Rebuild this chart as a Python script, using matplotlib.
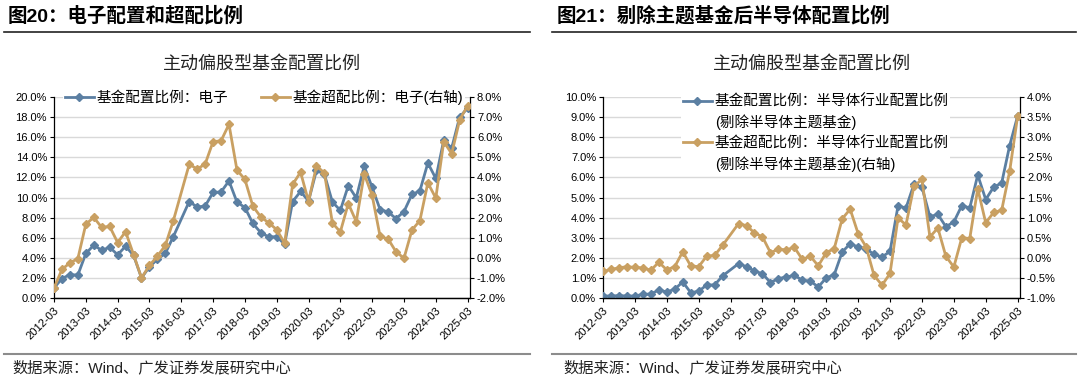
# plot.py
# Re-draw of the two panels: electronics allocation / over-allocation,
# and semiconductor allocation (theme funds removed).

import matplotlib
matplotlib.use("Agg")
import matplotlib.pyplot as plt
from matplotlib.lines import Line2D
from matplotlib.ticker import MultipleLocator, FuncFormatter

plt.rcParams['font.family'] = ['Liberation Sans', 'Noto Sans CJK SC']
plt.rcParams['axes.unicode_minus'] = False

# quarter-end dates (2016-03 has no value in the source)
dates = ["2012-03", "2012-06", "2012-09", "2012-12",
         "2013-03", "2013-06", "2013-09", "2013-12",
         "2014-03", "2014-06", "2014-09", "2014-12",
         "2015-03", "2015-06", "2015-09", "2015-12",
         "2016-06", "2016-09", "2016-12",
         "2017-03", "2017-06", "2017-09", "2017-12",
         "2018-03", "2018-06", "2018-09", "2018-12",
         "2019-03", "2019-06", "2019-09", "2019-12",
         "2020-03", "2020-06", "2020-09", "2020-12",
         "2021-03", "2021-06", "2021-09", "2021-12",
         "2022-03", "2022-06", "2022-09", "2022-12",
         "2023-03", "2023-06", "2023-09", "2023-12",
         "2024-03", "2024-06", "2024-09", "2024-12",
         "2025-03"]
tick_labels = ["2012-03", "2013-03", "2014-03", "2015-03", "2016-03",
               "2017-03", "2018-03", "2019-03", "2020-03", "2021-03",
               "2022-03", "2023-03", "2024-03", "2025-03"]

# figure 20: electronics (%)
elec_alloc = [1.0, 1.93, 2.33, 2.28, 4.43, 5.25, 4.75, 5.05, 4.3, 5.15, 4.25, 2.0,
              3.1, 3.85, 4.45, 6.1, 9.6, 9.05, 9.15, 10.5, 10.55, 11.65, 9.55,
              9.0, 7.42, 6.5, 6.08, 6.1, 5.35, 9.6, 10.6, 9.65, 12.7, 12.3, 9.55,
              8.72, 11.18, 9.96, 13.12, 11.0, 8.8, 8.56, 7.9, 8.6, 10.3, 10.66,
              13.43, 11.9, 15.7, 14.92, 18.0, 18.9]
elec_over = [-1.5, -0.58, -0.25, -0.04, 1.67, 2.01, 1.51, 1.56, 0.76, 1.3, 0.16,
             -1.0, -0.38, 0.08, 0.62, 1.84, 4.65, 4.42, 4.66, 5.78, 5.82, 6.64,
             4.37, 3.9, 2.57, 2.03, 1.74, 1.4, 0.72, 3.65, 4.26, 2.8, 4.57, 4.22,
             1.73, 1.29, 2.7, 1.8, 4.17, 3.1, 1.06, 0.94, 0.3, -0.02, 1.38, 1.85,
             3.73, 2.97, 5.78, 5.18, 6.86, 7.57]

# figure 21: semiconductor, theme funds removed (%)
semi_alloc = [0.1, 0.1, 0.12, 0.1, 0.1, 0.18, 0.2, 0.4, 0.3, 0.44, 0.8, 0.27,
              0.33, 0.65, 0.65, 1.1, 1.71, 1.56, 1.34, 1.21, 0.77, 0.97, 1.04,
              1.13, 0.88, 0.84, 0.55, 1.0, 1.16, 2.29, 2.7, 2.54, 2.45, 2.17,
              2.04, 2.32, 4.58, 4.48, 5.66, 5.52, 4.05, 4.16, 3.55, 3.78, 4.6,
              4.48, 6.12, 4.9, 5.52, 5.72, 7.58, 9.05]
semi_over = [-0.34, -0.29, -0.25, -0.22, -0.24, -0.25, -0.31, -0.11, -0.3, -0.22,
             0.15, -0.2, -0.22, 0.04, 0.06, 0.31, 0.85, 0.8, 0.62, 0.52, 0.13,
             0.21, 0.2, 0.26, -0.04, 0.04, -0.2, 0.13, 0.23, 0.97, 1.21, 0.6,
             0.27, -0.44, -0.68, -0.39, 0.99, 0.82, 1.78, 1.95, 0.52, 0.74, 0.04,
             -0.23, 0.5, 0.48, 1.72, 0.87, 1.13, 1.18, 2.15, 3.52]

BLUE = '#5B7FA2'
GOLD = '#C9A062'
GRID = '#D9D9D9'


def quarter_pos(label):
    """Quarter index counted from 2012-03."""
    year, month = label.split('-')
    return (int(year) - 2012) * 4 + (int(month) - 3) // 3


def pct(decimals):
    return FuncFormatter(lambda v, _: f"{v:.{decimals}f}%")


def draw_panel(rect, left_vals, right_vals, left_lim, left_step, right_lim, right_step):
    """
    Draws one dual-axis line panel and returns (ax, ax2, h1, h2).
    """
    xs = [quarter_pos(d) for d in dates]
    ax = fig.add_axes(rect)
    ax2 = ax.twinx()

    h1, = ax.plot(xs, left_vals, color=BLUE, lw=2.0, marker='D', ms=4.0,
                  mec=BLUE, mfc=BLUE, zorder=3)
    h2, = ax2.plot(xs, right_vals, color=GOLD, lw=2.0, marker='D', ms=4.0,
                   mec=GOLD, mfc=GOLD, zorder=3)

    ax.set_xlim(0, 52.3)
    ax.set_ylim(*left_lim)
    ax2.set_ylim(*right_lim)
    ax.yaxis.set_major_locator(MultipleLocator(left_step))
    ax2.yaxis.set_major_locator(MultipleLocator(right_step))
    ax.yaxis.set_major_formatter(pct(1))
    ax2.yaxis.set_major_formatter(pct(1))

    ax.set_xticks([quarter_pos(t) for t in tick_labels])
    ax.set_xticklabels(tick_labels, rotation=45, ha='right', rotation_mode='anchor')

    ax.yaxis.grid(True, color=GRID, lw=1.0)
    ax.set_axisbelow(True)
    for a in (ax, ax2):
        a.spines['top'].set_visible(False)
        for s in ('left', 'right', 'bottom'):
            a.spines[s].set_color('#000000')
            a.spines[s].set_linewidth(0.9)
        a.tick_params(labelsize=8, length=3, width=0.8, colors='#000000', pad=2)
    ax.spines['right'].set_visible(False)
    ax2.spines['left'].set_visible(False)
    return ax, ax2, h1, h2


fig = plt.figure(figsize=(10.8, 3.8), dpi=100)

# ---------- left panel ----------
ax, ax2, h1, h2 = draw_panel([54 / 1080, 1 - 298 / 380, 416 / 1080, 201 / 380],
                             elec_alloc, elec_over, (0, 20), 2, (-2, 8), 1)
leg = ax2.legend([h1, h2], ["基金配置比例：电子", "基金超配比例：电子(右轴)"],
                 loc='center', bbox_to_anchor=(0.505, 1.0), ncol=2, fontsize=10.5,
                 frameon=True, facecolor='white', edgecolor='none', framealpha=1,
                 handlelength=2.0, handletextpad=0.2, columnspacing=2.2,
                 borderpad=0.1)
ax.set_title("主动偏股型基金配置比例", fontsize=13, color='#222222', pad=20)

# ---------- right panel ----------
bx, bx2, g1, g2 = draw_panel([603 / 1080, 1 - 298 / 380, 417 / 1080, 201 / 380],
                             semi_alloc, semi_over, (0, 10), 1, (-1, 4), 0.5)
blank = Line2D([], [], linestyle='none')
bx2.legend([g1, blank, g2, blank],
           ["基金配置比例：半导体行业配置比例", "(剔除半导体主题基金)",
            "基金超配比例：半导体行业配置比例", "(剔除半导体主题基金)(右轴)"],
           loc='upper left', bbox_to_anchor=(0.17, 1.055), fontsize=10.5,
           frameon=True, facecolor='white', edgecolor='none', framealpha=1,
           handlelength=2.0, handletextpad=0.2, labelspacing=0.4, borderpad=0.1)
bx.set_title("主动偏股型基金配置比例", fontsize=13, color='#222222', pad=20)

# ---------- headers and footers ----------
fig.text(8 / 1080, 1 - 16 / 380, "图20：电子配置和超配比例", fontsize=14,
         fontweight='bold', va='center', ha='left')
fig.text(557 / 1080, 1 - 16 / 380, "图21：剔除主题基金后半导体配置比例", fontsize=14,
         fontweight='bold', va='center', ha='left')
for x0, x1 in ((4, 530), (552, 1076)):
    fig.add_artist(Line2D([x0 / 1080, x1 / 1080], [1 - 31.5 / 380] * 2,
                          color='#222222', lw=1.2))
    fig.add_artist(Line2D([x0 / 1080, x1 / 1080], [1 - 354 / 380] * 2,
                          color='#8C8C8C', lw=1.5))
fig.text(12 / 1080, 1 - 368 / 380, "数据来源：Wind、广发证券发展研究中心",
         fontsize=11, va='center', ha='left', color='#222222')
fig.text(563 / 1080, 1 - 368 / 380, "数据来源：Wind、广发证券发展研究中心",
         fontsize=11, va='center', ha='left', color='#222222')

fig.savefig("out.png", dpi=100, facecolor='white')
print("saved out.png")
